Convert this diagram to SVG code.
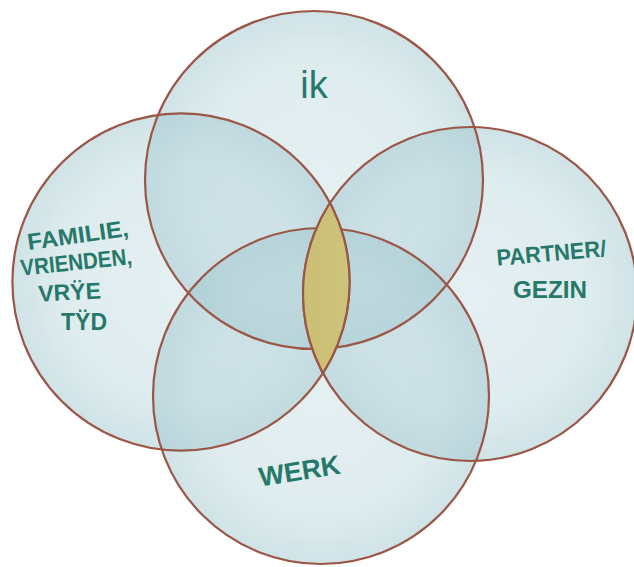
<svg xmlns="http://www.w3.org/2000/svg" width="634" height="567" viewBox="0 0 634 567">
  <defs>
    <radialGradient id="wash" cx="0.5" cy="0.5" r="0.5">
      <stop offset="0" stop-color="#a6cbd2" stop-opacity="0.3"/>
      <stop offset="0.7" stop-color="#a6cbd2" stop-opacity="0.36"/>
      <stop offset="1" stop-color="#9fc6ce" stop-opacity="0.5"/>
    </radialGradient>
    <linearGradient id="lensFill" x1="0" y1="0" x2="1" y2="0">
      <stop offset="0" stop-color="#cabf74"/>
      <stop offset="0.5" stop-color="#d6cd8b"/>
      <stop offset="1" stop-color="#cabf74"/>
    </linearGradient>
    <clipPath id="clipLeft"><circle cx="181" cy="282" r="168.6"/></clipPath>
    <clipPath id="clipRight"><circle cx="470" cy="294" r="167"/></clipPath>
  </defs>
  <style>
    .fill { fill: url(#wash); stroke: none; }
    .ring { fill: none; stroke: #9b5646; stroke-width: 2.2; }
    .label { font-family: "Liberation Sans", "DejaVu Sans", sans-serif; fill: #26796a; font-weight: bold; text-anchor: middle; }
  </style>
  <rect width="634" height="567" fill="#ffffff"/>

  <g id="node-ik">
    <circle class="fill" cx="314" cy="180" r="169"/>
    <text class="label" x="314" y="98" font-size="38" style="font-weight:normal">ik</text>
  </g>

  <g id="node-familie">
    <circle class="fill" cx="181" cy="282" r="168.6"/>
    <g font-size="23">
      <text class="label" x="79" y="243" transform="rotate(-8 79 243)" textLength="102" lengthAdjust="spacingAndGlyphs">FAMILIE,</text>
      <text class="label" x="77" y="270" transform="rotate(-6 77 270)" textLength="112" lengthAdjust="spacingAndGlyphs">VRIENDEN,</text>
      <text class="label" x="70" y="300" transform="rotate(-3 70 300)">VRŸE</text>
      <text class="label" x="84" y="330">TŸD</text>
    </g>
  </g>

  <g id="node-partner">
    <circle class="fill" cx="470" cy="294" r="167"/>
    <text class="label" x="552" y="261" font-size="23" transform="rotate(-5 552 261)" textLength="110" lengthAdjust="spacingAndGlyphs">PARTNER/</text>
    <text class="label" x="550" y="298" font-size="24" textLength="74" lengthAdjust="spacingAndGlyphs">GEZIN</text>
  </g>

  <g id="node-werk">
    <circle class="fill" cx="321" cy="396" r="168"/>
    <text class="label" x="301" y="480" font-size="27" transform="rotate(-9 301 480)" textLength="82" lengthAdjust="spacingAndGlyphs">WERK</text>
  </g>

  <g id="outlines">
    <circle class="ring" cx="314" cy="180" r="169"/>
    <circle class="ring" cx="181" cy="282" r="168.6"/>
    <circle class="ring" cx="470" cy="294" r="167"/>
    <circle class="ring" cx="321" cy="396" r="168"/>
  </g>

  <g id="overlap">
    <g clip-path="url(#clipLeft)">
      <circle cx="470" cy="294" r="167" fill="url(#lensFill)"/>
    </g>
    <g clip-path="url(#clipLeft)">
      <circle class="ring" cx="470" cy="294" r="167"/>
    </g>
    <g clip-path="url(#clipRight)">
      <circle class="ring" cx="181" cy="282" r="168.6"/>
    </g>
  </g>
</svg>
